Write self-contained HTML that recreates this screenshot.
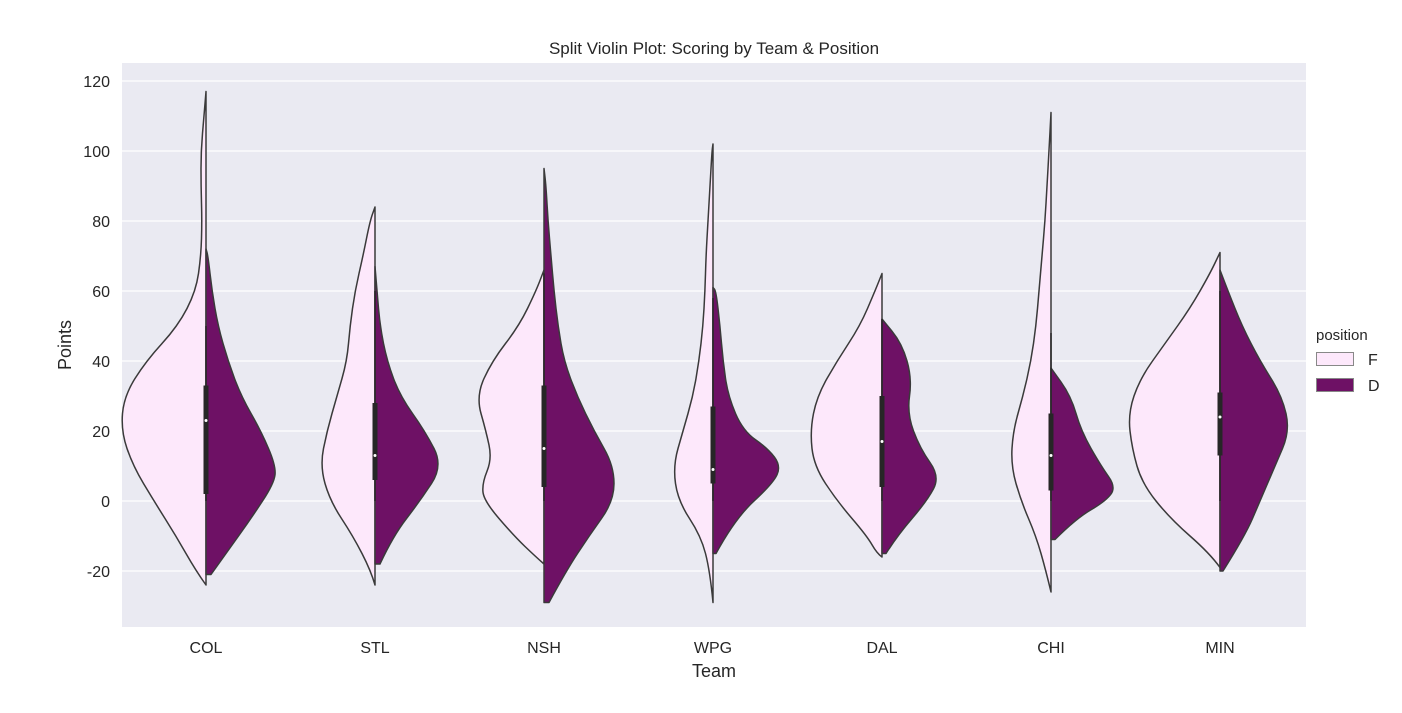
<!DOCTYPE html>
<html><head><meta charset="utf-8"><style>
body{margin:0;background:#fff;font-family:"Liberation Sans",sans-serif;}
svg text{font-family:"Liberation Sans",sans-serif;fill:#262626;}
</style></head><body>
<svg id="chart" width="1402" height="708"></svg>
<script>
const teams=["COL","STL","NSH","WPG","DAL","CHI","MIN"];
const yTicks=[-20,0,20,40,60,80,100,120];
const densF=[
[[-24,0],[-20,10],[-10,30],[0,52],[10,73],[20,85],[30,82],[40,60],[50,28],[60,10],[70,5],[80,4],[90,5],[100,5],[110,2],[117,0]],
[[-24,0],[-20,4],[-10,22],[0,45],[10,55],[20,48],[30,38],[40,28],[50,25],[60,20],[70,12],[80,5],[84,0]],
[[-18,0],[-16,8],[-10,30],[0,60],[5,62],[12,52],[20,58],[30,68],[40,52],[50,25],[60,8],[66,0]],
[[-29,0],[-20,3],[-10,12],[0,35],[10,40],[20,30],[30,20],[40,14],[50,10],[60,8],[70,7],[80,5],[90,3],[100,1],[102,0]],
[[-16,0],[-15,5],[-10,15],[0,45],[10,68],[20,72],[30,65],[40,45],[50,22],[60,7],[65,0]],
[[-26,0],[-20,5],[-10,15],[0,30],[10,40],[20,38],[30,28],[40,20],[50,15],[60,12],[70,9],[80,6],[90,4],[100,2],[111,0]],
[[-19,0],[-15,10],[-5,50],[5,78],[15,88],[25,92],[35,80],[45,55],[55,30],[65,10],[71,0]]];
const densD=[
[[-21,5],[-15,20],[-5,45],[5,68],[10,70],[20,55],[30,35],[40,22],[50,12],[60,6],[70,2],[72,0]],
[[-18,5],[-10,18],[0,45],[10,68],[20,50],[30,25],[40,12],[50,5],[60,2],[67,0]],
[[-29,5],[-20,22],[-10,45],[0,70],[10,70],[20,50],[30,33],[40,20],[50,14],[60,10],[70,7],[80,4],[90,2],[95,0]],
[[-15,3],[-5,22],[5,60],[10,68],[15,55],[20,30],[30,15],[40,10],[50,7],[60,3],[61,0]],
[[-15,4],[-10,15],[0,45],[7,58],[15,38],[25,25],[35,30],[45,20],[52,0]],
[[-11,4],[-5,25],[0,55],[4,65],[10,50],[20,30],[30,20],[38,0]],
[[-20,3],[-10,25],[0,40],[10,55],[20,70],[30,62],[40,40],[50,22],[60,8],[66,0]]];
const medians=[23,13,15,9,17,13,24];
const q1=[2,6,4,5,4,3,13];
const q3=[33,28,33,27,30,25,31];
const whiskLo=[0,0,0,0,0,0,0];
const whiskHi=[50,60,65,58,52,48,60];

const L=122,R=1306,T=63,B=627;
const y=v=>501-v*3.5;
const x=i=>206+i*169;
const svg=document.getElementById('chart');
const NS="http://www.w3.org/2000/svg";
function mk(t,a,p){const e=document.createElementNS(NS,t);for(const k in a)e.setAttribute(k,a[k]);(p||svg).appendChild(e);return e;}
const bg=mk('rect',{x:L,y:T,width:R-L,height:B-T,fill:'#eaeaf2'});


yTicks.forEach(v=>{
 const g=mk('line',{x1:L,x2:R,y1:y(v),y2:y(v),stroke:'#fff','stroke-width':1.3});
 
 
 const t=mk('text',{x:L-12,y:y(v)+6,'text-anchor':'end','font-size':16});t.textContent=v;
 
 
});
function smooth(pts){
 let d='M'+pts[0][0]+','+pts[0][1];
 for(let i=1;i<pts.length-1;i++){
  const mx=(pts[i][0]+pts[i+1][0])/2,my=(pts[i][1]+pts[i+1][1])/2;
  d+=' Q'+pts[i][0]+','+pts[i][1]+' '+mx+','+my;
 }
 const l=pts[pts.length-1];d+=' L'+l[0]+','+l[1];return d;
}
teams.forEach((tm,i)=>{
 const cx=x(i);
 const pf=densF[i].map(p=>[cx-p[1],y(p[0])]);
 const df='M'+cx+','+y(densF[i][0][0])+' L'+smooth(pf).slice(1)+' L'+cx+','+y(densF[i][densF[i].length-1][0])+' Z';
 const a=mk('path',{d:df,fill:'#fde8fb',stroke:'#3a3a3a','stroke-width':1.5,'stroke-linejoin':'round'});
 
 
 const pd=densD[i].map(p=>[cx+p[1],y(p[0])]);
 const dd='M'+cx+','+y(densD[i][0][0])+' L'+smooth(pd).slice(1)+' L'+cx+','+y(densD[i][densD[i].length-1][0])+' Z';
 const b=mk('path',{d:dd,fill:'#6e1165',stroke:'#3a3a3a','stroke-width':1.5,'stroke-linejoin':'round'});
 
 
 const w=mk('line',{x1:cx,x2:cx,y1:y(whiskLo[i]),y2:y(whiskHi[i]),stroke:'#262626','stroke-width':1.5});
 
 
 const bx=mk('rect',{x:cx-2.5,y:y(q3[i]),width:5,height:y(q1[i])-y(q3[i]),fill:'#262626'});
 
 
 const m=mk('circle',{cx:cx,cy:y(medians[i]),r:1.5,fill:'#fff'});
 
 
 const t=mk('text',{x:cx,y:653,'text-anchor':'middle','font-size':16});t.textContent=tm;
 
 
});
</script>
<svg style="position:absolute;left:0;top:0" width="1402" height="708">
<text x="714" y="54" text-anchor="middle" font-size="17">Split Violin Plot: Scoring by Team &amp; Position</text>
<text x="714" y="677" text-anchor="middle" font-size="18">Team</text>
<text transform="translate(71,345) rotate(-90)" text-anchor="middle" font-size="18">Points</text>
<text x="1316" y="340" font-size="15">position</text>
<rect x="1316.5" y="352.5" width="37" height="13" fill="#fde8fb" stroke="#888"/>
<text x="1368" y="365" font-size="16">F</text>
<rect x="1316.5" y="378.5" width="37" height="13" fill="#6e1165" stroke="#888"/>
<text x="1368" y="391" font-size="16">D</text>
</svg>
</body></html>
